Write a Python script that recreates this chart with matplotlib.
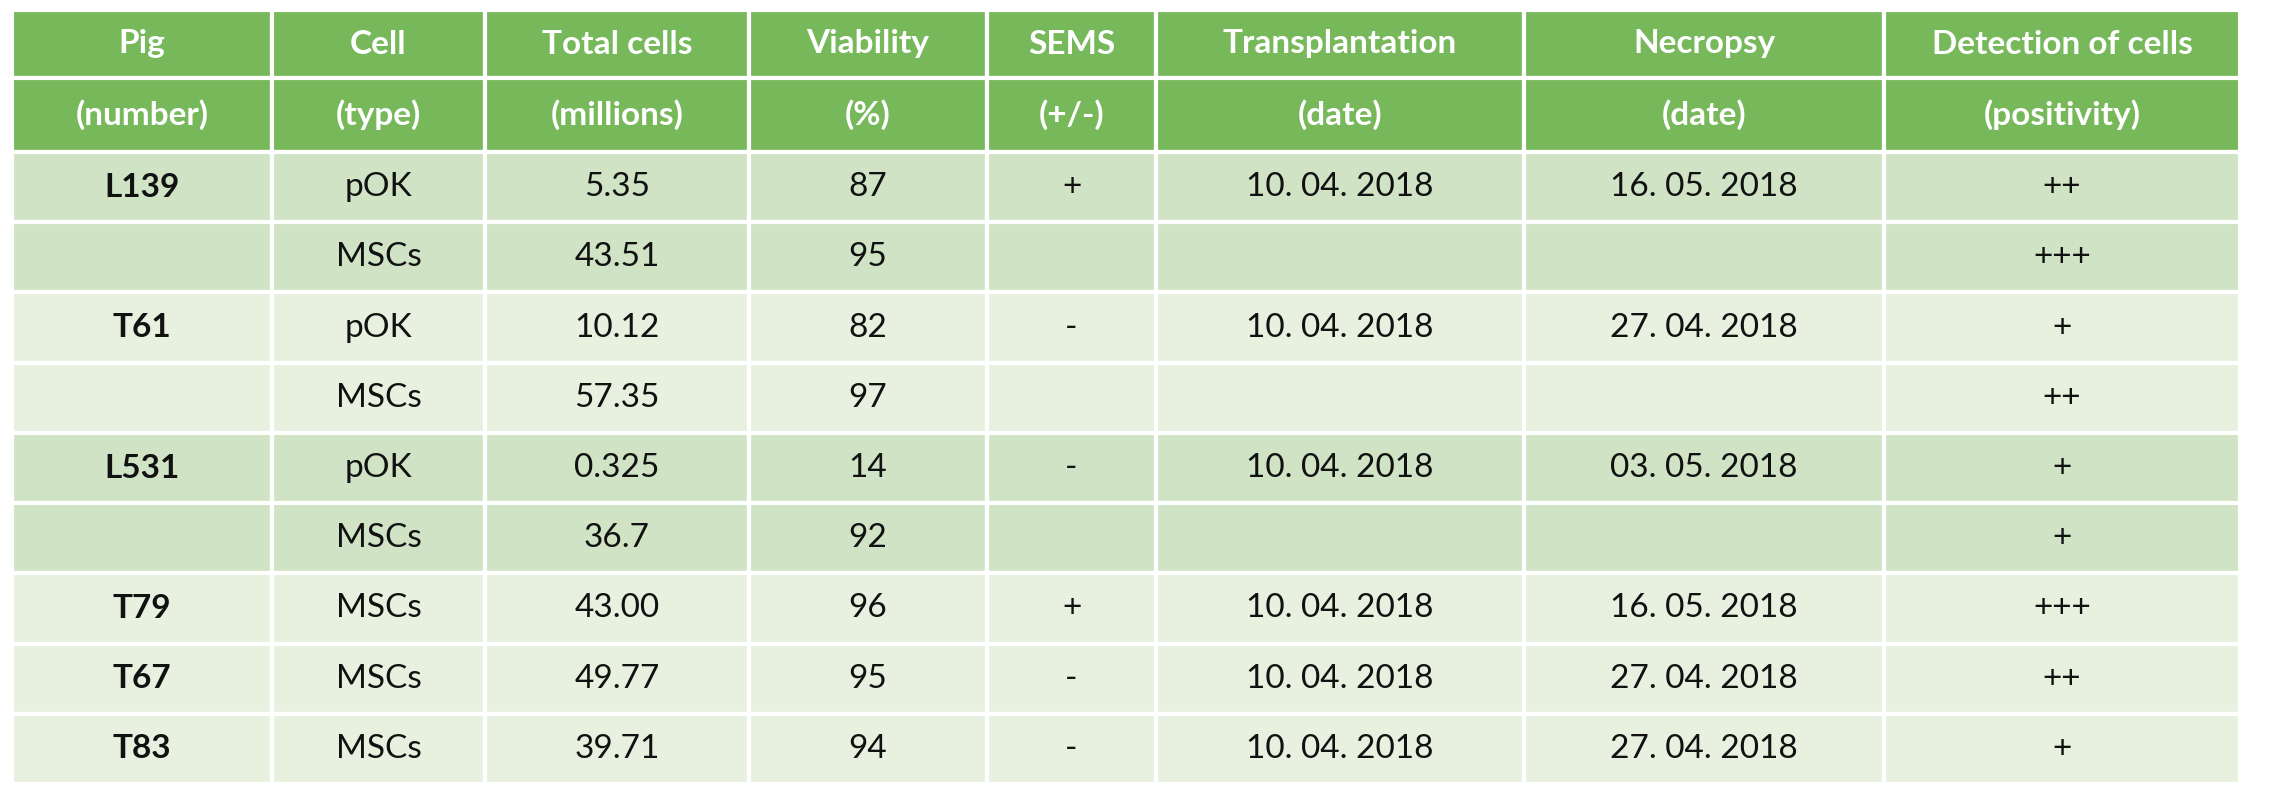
import matplotlib.pyplot as plt
from matplotlib.patches import Rectangle

plt.rcParams['font.family'] = ['Lato', 'DejaVu Sans']

header_top = ["Pig", "Cell", "Total cells", "Viability", "SEMS",
              "Transplantation", "Necropsy", "Detection of cells"]
header_bot = ["(number)", "(type)", "(millions)", "(%)", "(+/-)",
              "(date)", "(date)", "(positivity)"]

pig = ["L139", "", "T61", "", "L531", "", "T79", "T67", "T83"]
cell = ["pOK", "MSCs", "pOK", "MSCs", "pOK", "MSCs", "MSCs", "MSCs", "MSCs"]
total = ["5.35", "43.51", "10.12", "57.35", "0.325", "36.7", "43.00", "49.77", "39.71"]
viability = ["87", "95", "82", "97", "14", "92", "96", "95", "94"]
sems = ["+", "", "-", "", "-", "", "+", "-", "-"]
transpl = ["10. 04. 2018", "", "10. 04. 2018", "", "10. 04. 2018", "",
           "10. 04. 2018", "10. 04. 2018", "10. 04. 2018"]
necropsy = ["16. 05. 2018", "", "27. 04. 2018", "", "03. 05. 2018", "",
            "16. 05. 2018", "27. 04. 2018", "27. 04. 2018"]
detection = ["++", "+++", "+", "++", "+", "+", "+++", "++", "+"]
shade = [1, 1, 0, 0, 1, 1, 0, 0, 0]

columns = [pig, cell, total, viability, sems, transpl, necropsy, detection]

# layout in pixels
col_edges = [12, 272, 485, 749, 987, 1156, 1524, 1884, 2240]
top, mid, head_bot, bottom = 10, 78, 152, 784
row_h = (bottom - head_bot) / len(pig)

GREEN = "#76b85a"
DARK = "#d0e4c5"
LIGHT = "#e8f1df"

fig = plt.figure(figsize=(22.72, 8), dpi=100)
ax = fig.add_axes([0, 0, 1, 1])
ax.set_xlim(0, 2272)
ax.set_ylim(800, 0)
ax.axis("off")

lw = 3
for j in range(len(columns)):
    x0, x1 = col_edges[j], col_edges[j + 1]
    xc = (x0 + x1) / 2
    for (y0, y1, txt) in [(top, mid, header_top[j]), (mid, head_bot, header_bot[j])]:
        ax.add_patch(Rectangle((x0, y0), x1 - x0, y1 - y0, facecolor=GREEN,
                               edgecolor="white", linewidth=lw))
        ax.text(xc, (y0 + y1) / 2, txt, ha="center", va="center", color="white",
                fontsize=24, fontweight="bold")
    for i, val in enumerate(columns[j]):
        y0 = head_bot + i * row_h
        ax.add_patch(Rectangle((x0, y0), x1 - x0, row_h,
                               facecolor=DARK if shade[i] else LIGHT,
                               edgecolor="white", linewidth=lw))
        ax.text(xc, y0 + row_h / 2, val, ha="center", va="center", color="#111111",
                fontsize=24, fontweight="bold" if j == 0 else "normal")

fig.savefig("out.png", dpi=100, facecolor="white")
